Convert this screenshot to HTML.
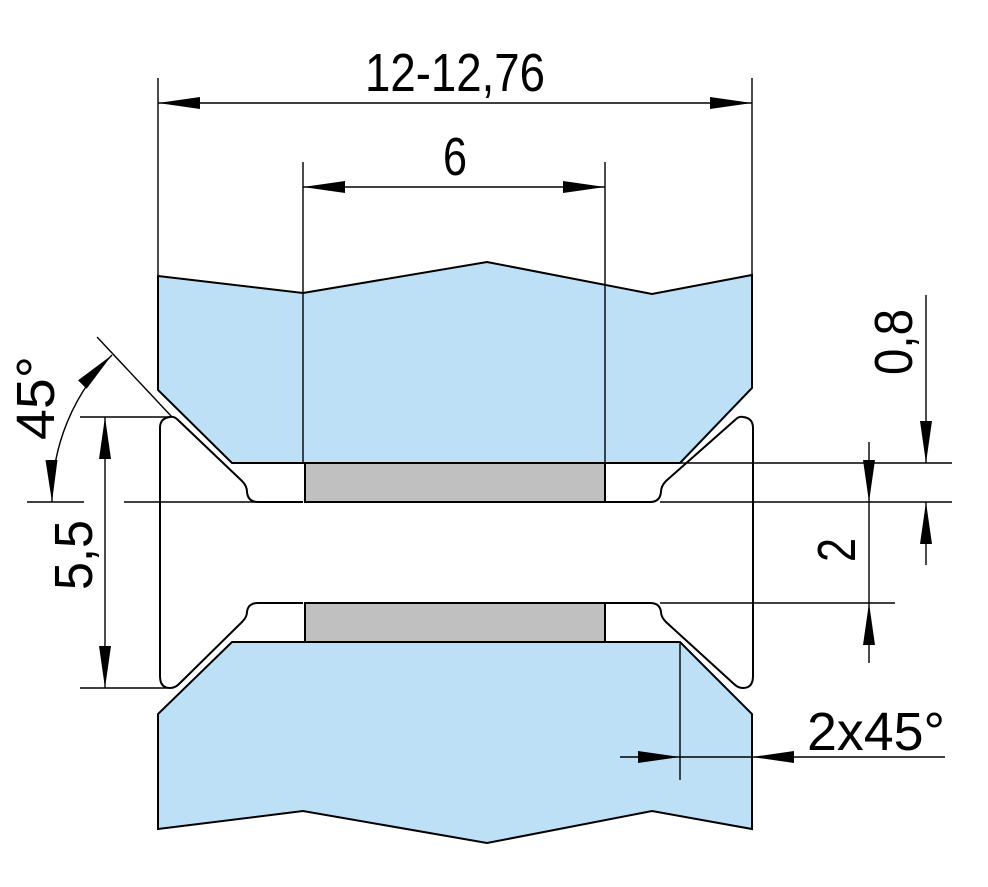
<!DOCTYPE html>
<html><head><meta charset="utf-8"><style>html,body{margin:0;padding:0;background:#fff}svg{display:block}</style></head>
<body>
<svg width="988" height="887" viewBox="0 0 988 887" xmlns="http://www.w3.org/2000/svg" font-family="Liberation Sans, sans-serif">
<defs>
<marker id="a" viewBox="0 0 42 12" refX="42" refY="6" markerWidth="42" markerHeight="12" markerUnits="userSpaceOnUse" orient="auto-start-reverse"><path d="M0,0 L42,6 L0,12 Z" fill="#000"/></marker>
</defs>
<g stroke="#000" stroke-width="2" stroke-linejoin="miter">
<polygon points="158,276 303,293 487,262 652,294 752,275 752,388 680,463 232,463 158,390" fill="#bee0f7"/>
<polygon points="232,642 680,642 752,714 752,829 652,811 487,843 303,811 158,829 158,714" fill="#bee0f7"/>
<rect x="305" y="463" width="300" height="39" fill="#c0c0c0"/>
<rect x="305" y="603" width="300" height="39" fill="#c0c0c0"/>
<path d="M303,502 L258,502 Q248,502 247,492 Q247,486 242,481 L178,420 Q174,416 170,417 Q160,418 160,428 L160,676 Q160,688 170,688 Q175,688 179,684 L242,622 Q247,617 247,612 Q248,603 258,603 L303,603" fill="none"/>
<path d="M605,502 L650,502 Q660,502 661,492 Q661,486 666,481 L735,420 Q739,416 743,417 Q753,418 753,428 L753,676 Q753,688 743,688 Q738,688 734,684 L666,622 Q661,617 661,612 Q660,603 650,603 L605,603" fill="none"/>
</g>
<g stroke="#000" stroke-width="1.4" fill="none">
<line x1="158" y1="78" x2="158" y2="276"/>
<line x1="752" y1="78" x2="752" y2="276"/>
<line x1="158" y1="103" x2="752" y2="103" marker-start="url(#a)" marker-end="url(#a)"/>
<line x1="303" y1="162" x2="303" y2="463"/>
<line x1="605" y1="162" x2="605" y2="463"/>
<line x1="303" y1="187" x2="605" y2="187" marker-start="url(#a)" marker-end="url(#a)"/>
<line x1="80" y1="417" x2="172" y2="417"/>
<line x1="80" y1="688" x2="168" y2="688"/>
<line x1="105" y1="417" x2="105" y2="688" marker-start="url(#a)" marker-end="url(#a)"/>
<line x1="27" y1="502" x2="84" y2="502"/>
<line x1="124" y1="502" x2="300" y2="502"/>
<line x1="97" y1="337" x2="172" y2="417"/>
<path d="M112,355 A204,204 0 0 0 52,502" marker-start="url(#a)" marker-end="url(#a)"/>
<line x1="680" y1="463" x2="952" y2="463"/>
<line x1="660" y1="502" x2="952" y2="502"/>
<line x1="660" y1="603" x2="895" y2="603"/>
<line x1="926" y1="295" x2="926" y2="463" marker-end="url(#a)"/>
<line x1="926" y1="565" x2="926" y2="502" marker-end="url(#a)"/>
<line x1="869" y1="442" x2="869" y2="502" marker-end="url(#a)"/>
<line x1="869" y1="663" x2="869" y2="603" marker-end="url(#a)"/>
<line x1="869" y1="502" x2="869" y2="603"/>
<line x1="680" y1="642" x2="680" y2="780"/>
<line x1="620" y1="757" x2="680" y2="757" marker-end="url(#a)"/>
<line x1="945" y1="757" x2="752" y2="757" marker-end="url(#a)"/>
<line x1="680" y1="757" x2="752" y2="757"/>
</g>
<g fill="#000" font-size="54">
<text x="455" y="91" text-anchor="middle" textLength="180" lengthAdjust="spacingAndGlyphs">12-12,76</text>
<text x="455" y="175" text-anchor="middle" textLength="24" lengthAdjust="spacingAndGlyphs">6</text>
<text x="876" y="750" text-anchor="middle" textLength="138" lengthAdjust="spacingAndGlyphs">2x45°</text>
<text transform="translate(54,398) rotate(-90)" text-anchor="middle" textLength="84" lengthAdjust="spacingAndGlyphs">45°</text>
<text transform="translate(92,555) rotate(-90)" text-anchor="middle" textLength="70" lengthAdjust="spacingAndGlyphs">5,5</text>
<text transform="translate(912,342) rotate(-90)" text-anchor="middle" textLength="66" lengthAdjust="spacingAndGlyphs">0,8</text>
<text transform="translate(855,550) rotate(-90)" text-anchor="middle" textLength="24" lengthAdjust="spacingAndGlyphs">2</text>
</g>
</svg>
</body></html>
